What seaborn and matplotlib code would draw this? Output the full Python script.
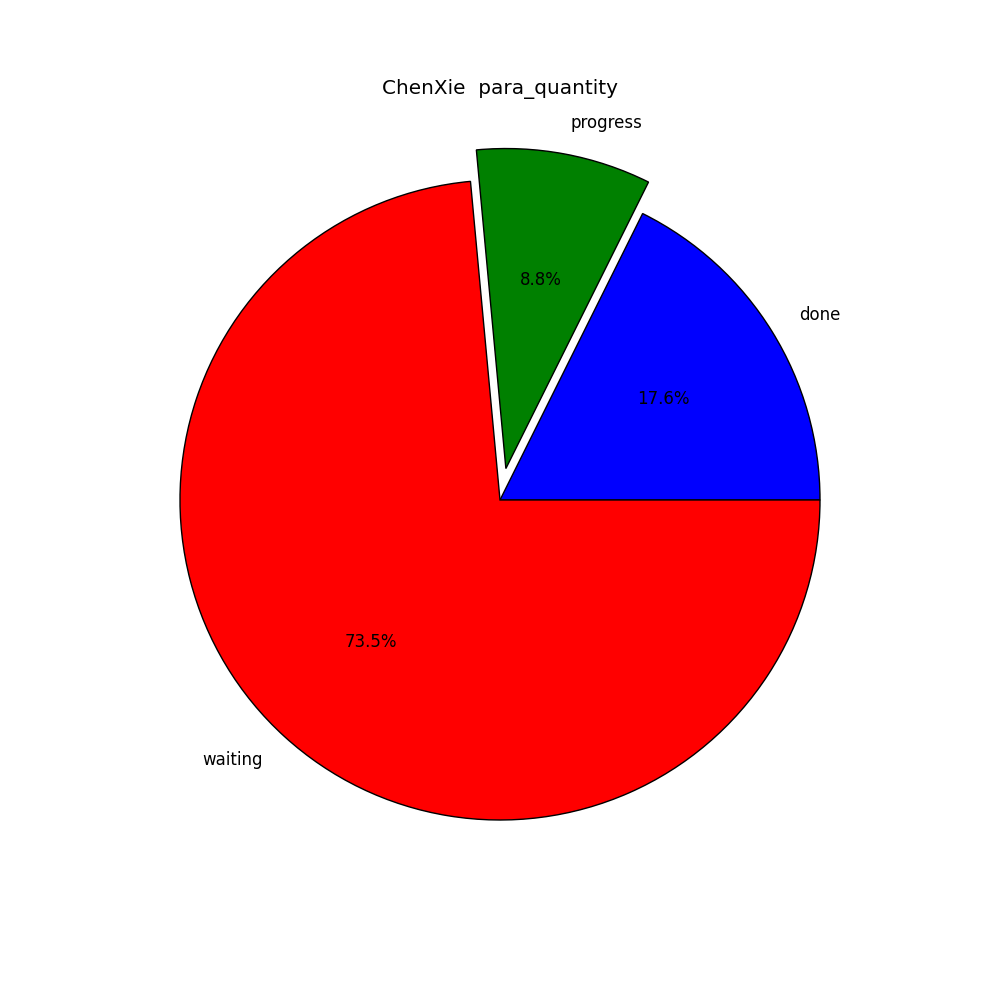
import matplotlib
matplotlib.use("Agg")
import matplotlib.pyplot as plt
import seaborn as sns

# data
labels = ["done", "progress", "waiting"]
counts = [6, 3, 25]
colors = ["#0000ff", "#008000", "#ff0000"]
explode = [0, 0.1, 0]

sns.set_theme(style="white")
plt.rcParams["font.family"] = ["DejaVu Sans"]
plt.rcParams["text.color"] = "black"

fig = plt.figure(figsize=(10, 10), dpi=100)
ax = fig.add_axes([0.1, 0.1, 0.8, 0.8])

ax.pie(counts, labels=labels, colors=colors, explode=explode,
       autopct="%1.1f%%", startangle=0,
       wedgeprops={"edgecolor": "black", "linewidth": 1},
       textprops={"fontsize": 12, "color": "black"})
ax.set_xlim(-1.25, 1.25)
ax.set_ylim(-1.25, 1.25)
ax.set_aspect("equal")
ax.set_title("ChenXie  para_quantity", fontsize=14.4, color="black", pad=4)

plt.savefig("out.png", dpi=100)
